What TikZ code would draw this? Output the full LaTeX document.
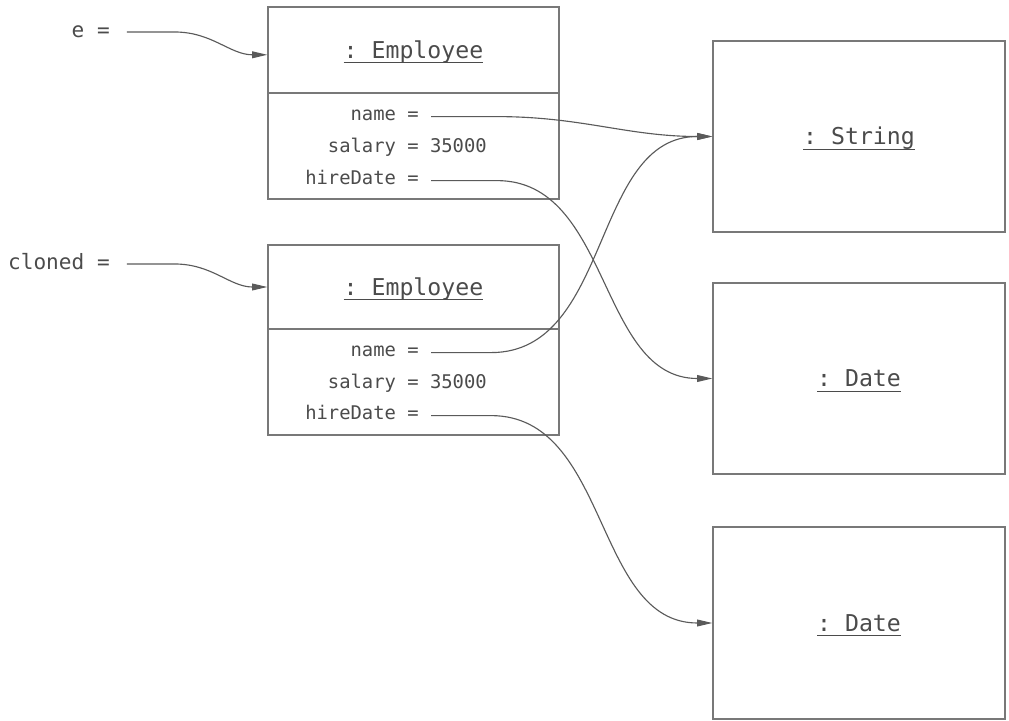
\documentclass[tikz,border=0pt]{standalone}
\usepackage{fontspec}
\setmonofont{DejaVu Sans Mono}
\usepackage{xcolor}
\usepackage{tikz}
\usetikzlibrary{positioning,arrows.meta,calc}
\definecolor{linegray}{RGB}{90,90,90}
\definecolor{boxgray}{RGB}{120,120,120}
\definecolor{textgray}{RGB}{75,75,75}
\newcommand{\objname}[1]{\sbox0{#1}\rlap{\usebox0}\rule[-3.6pt]{\wd0}{0.8pt}}

\begin{document}
\begin{tikzpicture}[
  x=0.025cm, y=-0.025cm,
  every node/.style={text=textgray, inner sep=0pt},
  head/.style={draw=boxgray, line width=0.9pt, minimum width=7.275cm,
               font=\ttfamily\fontsize{16.5}{18}\selectfont, text height=11.5pt, text depth=0pt},
  body/.style={draw=boxgray, line width=0.9pt, minimum width=7.275cm, minimum height=2.65cm},
  obj/.style={draw=boxgray, line width=0.9pt, minimum width=7.3cm, minimum height=4.775cm,
              font=\ttfamily\fontsize{16.5}{18}\selectfont, text height=11.5pt, text depth=0pt},
  attr/.style={font=\ttfamily\fontsize{13.4}{15}\selectfont, anchor=base east},
  var/.style={font=\ttfamily\fontsize{15}{17}\selectfont, anchor=base east},
  ref/.style={-{Triangle[length=0.38cm,width=0.17cm]}, draw=linegray, line width=0.8pt}
]
  \useasboundingbox (0,0) rectangle (1009,721);

  % variables
  \node[var] (e) at (110,38) {e =};
  \node[var] (cloned) at (110,270) {cloned =};

  % original employee
  \node[head, minimum height=2.15cm] (ehead) at (413.5,50) {\objname{: Employee}};
  \node[body, below=-0.9pt of ehead] (ebody) {};
  \node[attr] (ename) at (419,121) {name =};
  \node[attr] (esalary) at (419,153) {salary =\rlap{~35000}};
  \node[attr] (edate) at (419,185) {hireDate =};

  % cloned employee
  \node[head, minimum height=2.1cm] (chead) at (413.5,287) {\objname{: Employee}};
  \node[body, below=-0.9pt of chead] (cbody) {};
  \node[attr] (cname) at (419,357) {name =};
  \node[attr] (csalary) at (419,389) {salary =\rlap{~35000}};
  \node[attr] (cdate) at (419,420) {hireDate =};

  % shared objects
  \node[obj] (str) at (859,136.5) {\objname{: String}};
  \node[obj] (date1) at (859,378.5) {\objname{: Date}};
  \node[obj, minimum height=4.8cm] (date2) at (859,623) {\objname{: Date}};

  % references
  \draw[ref] ([xshift=0.42cm,yshift=0.15cm]e.base east) -- ++(48,0)
    to[out=0,in=180] ([yshift=-0.12cm]ehead.west);
  \draw[ref] ([xshift=0.42cm,yshift=0.15cm]cloned.base east) -- ++(48,0)
    to[out=0,in=180] (chead.west);
  \draw[ref] ([xshift=0.3cm,yshift=0.11cm]ename.base east) -- ++(66,0)
    to[out=0,in=180] (str.west);
  \draw[ref] ([xshift=0.3cm,yshift=0.11cm]edate.base east) -- ++(66,0)
    to[out=0,in=180] (date1.west);
  \draw[ref] ([xshift=0.3cm,yshift=0.11cm]cname.base east) -- ++(60,0)
    to[out=0,in=180] (str.west);
  \draw[ref] ([xshift=0.3cm,yshift=0.11cm]cdate.base east) -- ++(60,0)
    to[out=0,in=180] (date2.west);
\end{tikzpicture}
\end{document}
